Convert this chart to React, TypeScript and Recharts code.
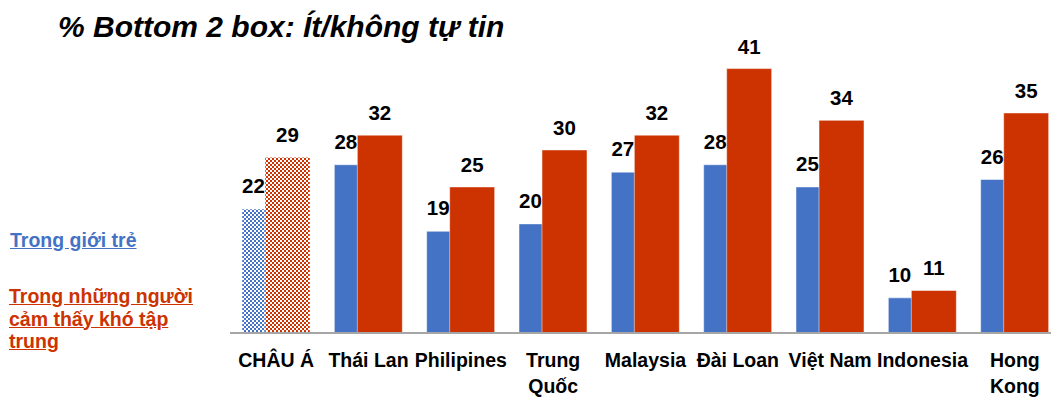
import React from 'react';
import { BarChart, Bar, XAxis, YAxis, LabelList, Cell } from 'recharts';

const CATEGORIES = ['CHÂU Á', 'Thái Lan', 'Philipines', 'Trung Quốc', 'Malaysia', 'Đài Loan', 'Việt Nam', 'Indonesia', 'Hong Kong'];
const YOUTH = [22, 28, 19, 20, 27, 28, 25, 10, 26];
const HARD_FOCUS = [29, 32, 25, 30, 32, 41, 34, 11, 35];
const TICK_LINES = [['CHÂU Á'], ['Thái Lan'], ['Philipines'], ['Trung', 'Quốc'], ['Malaysia'], ['Đài Loan'], ['Việt Nam'], ['Indonesia'], ['Hong', 'Kong']];

const BLUE = '#4472C4';
const RED = '#CC3300';
const FONT = '"Liberation Sans", Arial, sans-serif';

const BAR_SIZE = 45;
const BAR_GAP = -22; // bars overlap like in Excel

const data = CATEGORIES.map((name, i) => ({ name, youth: YOUTH[i], focus: HARD_FOCUS[i] }));

const CategoryTick = ({ x, y, payload }: any) => {
  const idx = CATEGORIES.indexOf(payload.value);
  const lines = TICK_LINES[idx] || [payload.value];
  return (
    <text x={x} y={y} textAnchor="middle" fill="#000" fontFamily={FONT} fontWeight="bold" fontSize={19.5}>
      {lines.map((l, i) => (
        <tspan key={i} x={x} dy={i === 0 ? 34 : 26}>{l}</tspan>
      ))}
    </text>
  );
};

// blue labels sit over the part of the bar that is not hidden by the red one
const BlueLabel = ({ x, y, value }: any) => (
  <text x={x + (BAR_SIZE + BAR_GAP) / 2} y={y - 16} textAnchor="middle" fill="#000" fontFamily={FONT} fontWeight="bold" fontSize={20.5}>
    {value}
  </text>
);

const RedLabel = ({ x, y, width, value }: any) => (
  <text x={x + width / 2} y={y - 15} textAnchor="middle" fill="#000" fontFamily={FONT} fontWeight="bold" fontSize={20.5}>
    {value}
  </text>
);

export default function App() {
  return (
    <div style={{ position: 'absolute', left: 0, top: 0, width: 1051, height: 397, overflow: 'hidden', background: '#fff', fontFamily: FONT }}>
      <div style={{ position: 'absolute', left: 58, top: 12, fontSize: 30, lineHeight: '30px', fontWeight: 'bold', fontStyle: 'italic', color: '#000', whiteSpace: 'nowrap' }}>
        % Bottom 2 box: Ít/không tự tin
      </div>
      <div style={{ position: 'absolute', left: 10, top: 229, fontSize: 19.5, lineHeight: '23px', fontWeight: 'bold', color: BLUE, textDecoration: 'underline', whiteSpace: 'nowrap' }}>
        Trong giới trẻ
      </div>
      <div style={{ position: 'absolute', left: 9, top: 285, fontSize: 19.5, lineHeight: '22.5px', fontWeight: 'bold', color: RED, textDecoration: 'underline', whiteSpace: 'nowrap' }}>
        Trong những người<br />cảm thấy khó tập<br />trung
      </div>
      <div style={{ position: 'absolute', left: 0, top: 0 }}>
        <BarChart
          width={1061}
          height={397}
          data={data}
          margin={{ top: 39, right: 0, bottom: 0, left: 230 }}
          barSize={BAR_SIZE}
          barGap={BAR_GAP}
        >
          <defs>
            <pattern id="blueCheck" width={4} height={4} patternUnits="userSpaceOnUse">
              <rect width={4} height={4} fill={BLUE} />
              <rect x={0} y={0} width={2} height={2} fill="#fff" />
              <rect x={2} y={2} width={2} height={2} fill="#fff" />
            </pattern>
            <pattern id="redCheck" width={4} height={4} patternUnits="userSpaceOnUse">
              <rect width={4} height={4} fill={RED} />
              <rect x={0} y={0} width={2} height={2} fill="#fff" />
              <rect x={2} y={2} width={2} height={2} fill="#fff" />
            </pattern>
          </defs>
          <XAxis
            dataKey="name"
            interval={0}
            tickLine={false}
            tickSize={0}
            tickMargin={0}
            axisLine={{ stroke: '#A6A6A6', strokeWidth: 2 }}
            tick={<CategoryTick />}
            height={64}
          />
          <YAxis type="number" domain={[5.25, 45]} allowDataOverflow hide />
          <Bar dataKey="youth" fill={BLUE} stroke="#fff" strokeWidth={0.5} isAnimationActive={false}>
            {data.map((d, i) => (
              <Cell key={`y-${i}`} fill={i === 0 ? 'url(#blueCheck)' : BLUE} />
            ))}
            <LabelList dataKey="youth" content={<BlueLabel />} />
          </Bar>
          <Bar dataKey="focus" fill={RED} stroke="#fff" strokeWidth={0.5} isAnimationActive={false}>
            {data.map((d, i) => (
              <Cell key={`f-${i}`} fill={i === 0 ? 'url(#redCheck)' : RED} />
            ))}
            <LabelList dataKey="focus" content={<RedLabel />} />
          </Bar>
        </BarChart>
      </div>
    </div>
  );
}
